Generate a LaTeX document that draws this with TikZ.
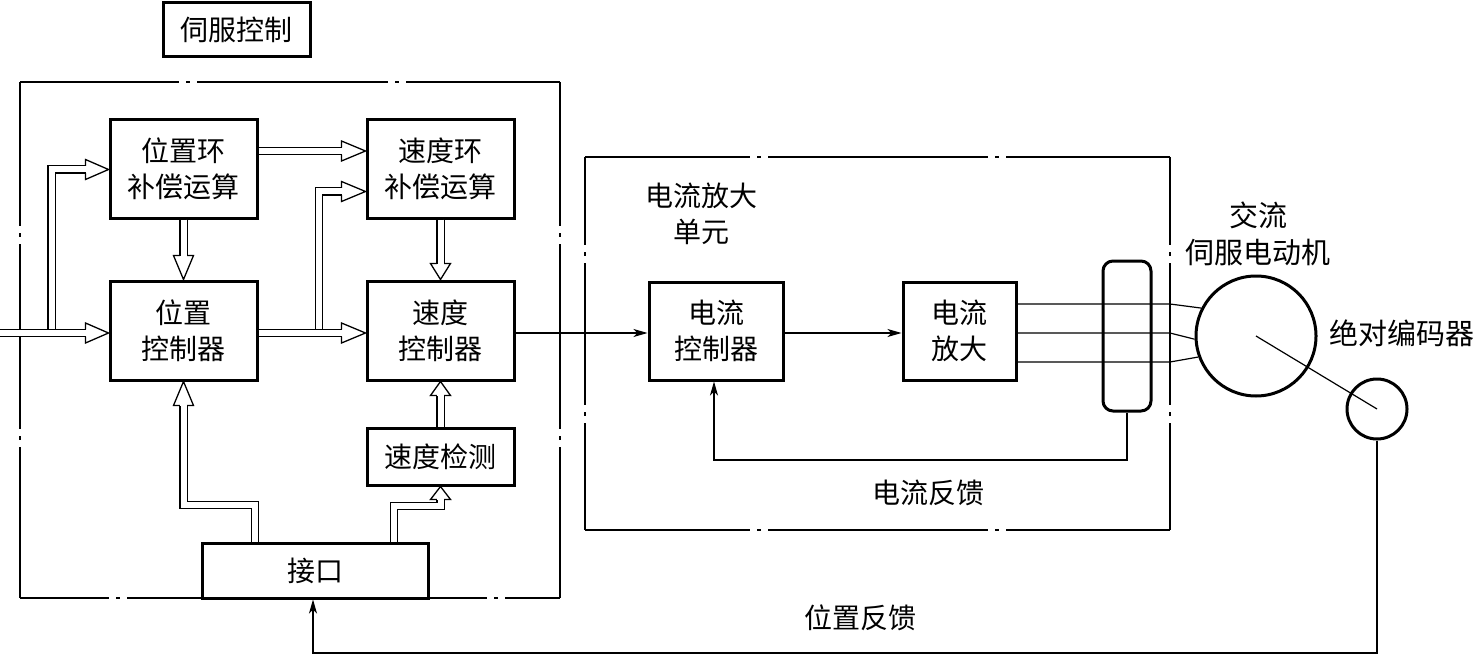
\documentclass[tikz,border=0pt]{standalone}
\usepackage{fontspec}
\setmainfont{Noto Sans CJK SC}
\usetikzlibrary{arrows.meta,calc}
\tikzset{
 blk/.style={draw, line width=3pt, inner sep=0pt, align=center, font=\fontsize{28}{36}\selectfont},
 lbl/.style={inner sep=0pt, align=center, font=\fontsize{28}{36}\selectfont},
 frm/.style={draw, line width=1.3pt, line cap=butt},
 hsh/.style={draw, double=white, double distance=6pt, line width=1.3pt, line join=miter},
 hhd/.style={draw, line width=1.3pt, line join=miter},
 tar/.style={draw, line width=1.2pt, -{Stealth[length=14pt,width=8pt,inset=4pt]}},
 tln/.style={draw, line width=1.2pt},
 rnd/.style={draw, circle, line width=3pt, inner sep=0pt},
}
\newcommand\HdR[2]{\draw[hhd] ($(#1)+(-#2,-3.65)$) -- ++(0,-6.35) -- (#1) -- ($(#1)+(-#2,10)$) -- ++(0,-6.35);}
\newcommand\HdU[2]{\draw[hhd] ($(#1)+(-3.65,#2)$) -- ++(-6.35,0) -- (#1) -- ($(#1)+(10,#2)$) -- ++(-6.35,0);}
\newcommand\HdD[2]{\draw[hhd] ($(#1)+(-3.65,-#2)$) -- ++(-6.35,0) -- (#1) -- ($(#1)+(10,-#2)$) -- ++(-6.35,0);}
\begin{document}
\begin{tikzpicture}[x=1pt,y=-1pt]
\useasboundingbox (0,0) rectangle (1477,655);
% frames
\coordinate (LA) at (20,82); \coordinate (LB) at (560,82);
\coordinate (LC) at (560,598); \coordinate (LD) at (20,598);
\path[frm, dash pattern=on 159pt off 7pt on 4pt off 7pt on 191pt off 7pt on 4pt off 7pt on 300pt] (LA) -- (LB);
\path[frm, dash pattern=on 144pt off 7pt on 4pt off 7pt on 185pt off 7pt on 4pt off 7pt on 300pt] (LB) -- (LC);
\path[frm, dash pattern=on 144pt off 7pt on 4pt off 7pt on 185pt off 7pt on 4pt off 7pt on 300pt] (LA) -- (LD);
\path[frm, dash pattern=on 89pt off 7pt on 4pt off 7pt on 360pt off 7pt on 4pt off 7pt on 300pt] (LD) -- (LC);
\coordinate (RA) at (585,157); \coordinate (RB) at (1170,157);
\coordinate (RC) at (1170,530); \coordinate (RD) at (585,530);
\path[frm, dash pattern=on 165pt off 7pt on 4pt off 7pt on 220pt off 7pt on 4pt off 7pt on 300pt] (RA) -- (RB);
\path[frm, dash pattern=on 165pt off 7pt on 4pt off 7pt on 220pt off 7pt on 4pt off 7pt on 300pt] (RD) -- (RC);
\path[frm, dash pattern=on 88pt off 7pt on 4pt off 7pt on 142pt off 7pt on 4pt off 7pt on 300pt] (RA) -- (RD);
\path[frm, dash pattern=on 88pt off 7pt on 4pt off 7pt on 142pt off 7pt on 4pt off 7pt on 300pt] (RB) -- (RC);
% boxes
\node[blk, minimum width=147pt, minimum height=54pt] (tt) at (236.5,30) {伺服控制};
\node[blk, minimum width=147pt, minimum height=98pt] (pl) at (183.5,169) {位置环\\补偿运算};
\node[blk, minimum width=147pt, minimum height=98pt] (sl) at (440.5,169) {速度环\\补偿运算};
\node[blk, minimum width=147pt, minimum height=99pt] (pc) at (183.5,330.5) {位置\\控制器};
\node[blk, minimum width=147pt, minimum height=99pt] (sc) at (440.5,330.5) {速度\\控制器};
\node[blk, minimum width=147pt, minimum height=57pt] (sd) at (440.5,456.5) {速度检测};
\node[blk, fill=white, minimum width=226pt, minimum height=55pt] (jk) at (315,570.5) {接口};
\node[blk, minimum width=134pt, minimum height=98pt] (cc) at (716,331) {电流\\控制器};
\node[blk, minimum width=113pt, minimum height=98pt] (ca) at (959.5,331) {电流\\放大};
\node[draw, line width=3pt, rounded corners=10pt, minimum width=48pt, minimum height=150pt, inner sep=0pt] (rr) at (1127,336) {};
\node[rnd, minimum size=120pt] (motor) at (1256,336) {};
\node[rnd, minimum size=60pt] (enc) at (1377,409) {};
% labels
\node[lbl] (l1) at (701,214) {电流放大\\单元};
\node[lbl, font=\fontsize{29}{37}\selectfont] (l2) at (1258,234) {交流\\伺服电动机};
\node[lbl, font=\fontsize{29}{36}\selectfont] (l3) at (1402,333) {绝对编码器};
\node[lbl] (l4) at (928,493) {电流反馈};
\node[lbl] (l5) at (860,618) {位置反馈};
% levels
\coordinate (yIn) at (0,333);
\coordinate (yB1) at (0,169.5);
\coordinate (yPS) at (0,151);
\coordinate (yB2) at (0,191.5);
\coordinate (tIn) at (pc.west |- yIn);
\coordinate (tB1) at (pl.west |- yB1);
\coordinate (tPS) at (sl.west |- yPS);
\coordinate (tPC) at (sc.west |- yIn);
\coordinate (tB2) at (sl.west |- yB2);
\coordinate (tPL) at (pc.north);
\coordinate (tSL) at (sc.north);
\coordinate (tSD) at (sc.south);
\coordinate (tJP) at (pc.south);
\coordinate (tJS) at (sd.south);
% hollow arrows
\coordinate (b1) at (51.5,329.35);
\draw[hsh] (b1) |- ($(tB1)+(-23,0)$); \HdR{tB1}{23}
\draw[hsh] (yIn) -- ($(tIn)+(-23,0)$); \HdR{tIn}{23}
\draw[hsh] (pl.east |- yPS) -- ($(tPS)+(-24,0)$); \HdR{tPS}{24}
\coordinate (b2) at (319,329.35);
\draw[hsh] (b2) |- ($(tB2)+(-24,0)$); \HdR{tB2}{24}
\draw[hsh] (pc.east |- yIn) -- ($(tPC)+(-24,0)$); \HdR{tPC}{24}
\draw[hsh] (pl.south) -- ($(tPL)+(0,-24)$); \HdD{tPL}{24}
\draw[hsh] (sl.south) -- ($(tSL)+(0,-16)$); \HdD{tSL}{16}
\draw[hsh] (sd.north) -- ($(tSD)+(0,14)$); \HdU{tSD}{14}
\coordinate (j1) at (255,505);
\draw[hsh] (jk.north -| j1) |- (tJP |- j1) -- ($(tJP)+(0,24)$); \HdU{tJP}{24}
\coordinate (j2) at (394,506);
\draw[hsh] (jk.north -| j2) |- (tJS |- j2) -- ($(tJS)+(0,13)$); \HdU{tJS}{13}
% thin connectors
\draw[tar] (sc.east |- yIn) -- (cc.west |- yIn);
\draw[tar] (cc.east |- yIn) -- (ca.west |- yIn);
\coordinate (m1) at (1170,304);
\coordinate (m2) at (1170,333);
\coordinate (m3) at (1170,362);
\draw[tln] (ca.east |- m1) -- (m1) -- (motor.153);
\draw[tln] (ca.east |- m2) -- (m2) -- (motor.183);
\draw[tln] (ca.east |- m3) -- (m3) -- (motor.200);
\draw[tln] (motor.center) -- (enc.center);
\coordinate (cf) at (714,460);
\draw[tar] (rr.south) |- (cf) -- (cf |- cc.south);
\coordinate (pf) at (313,653);
\draw[tar] (enc.south) |- (pf) -- (pf |- jk.south);
\end{tikzpicture}
\end{document}
